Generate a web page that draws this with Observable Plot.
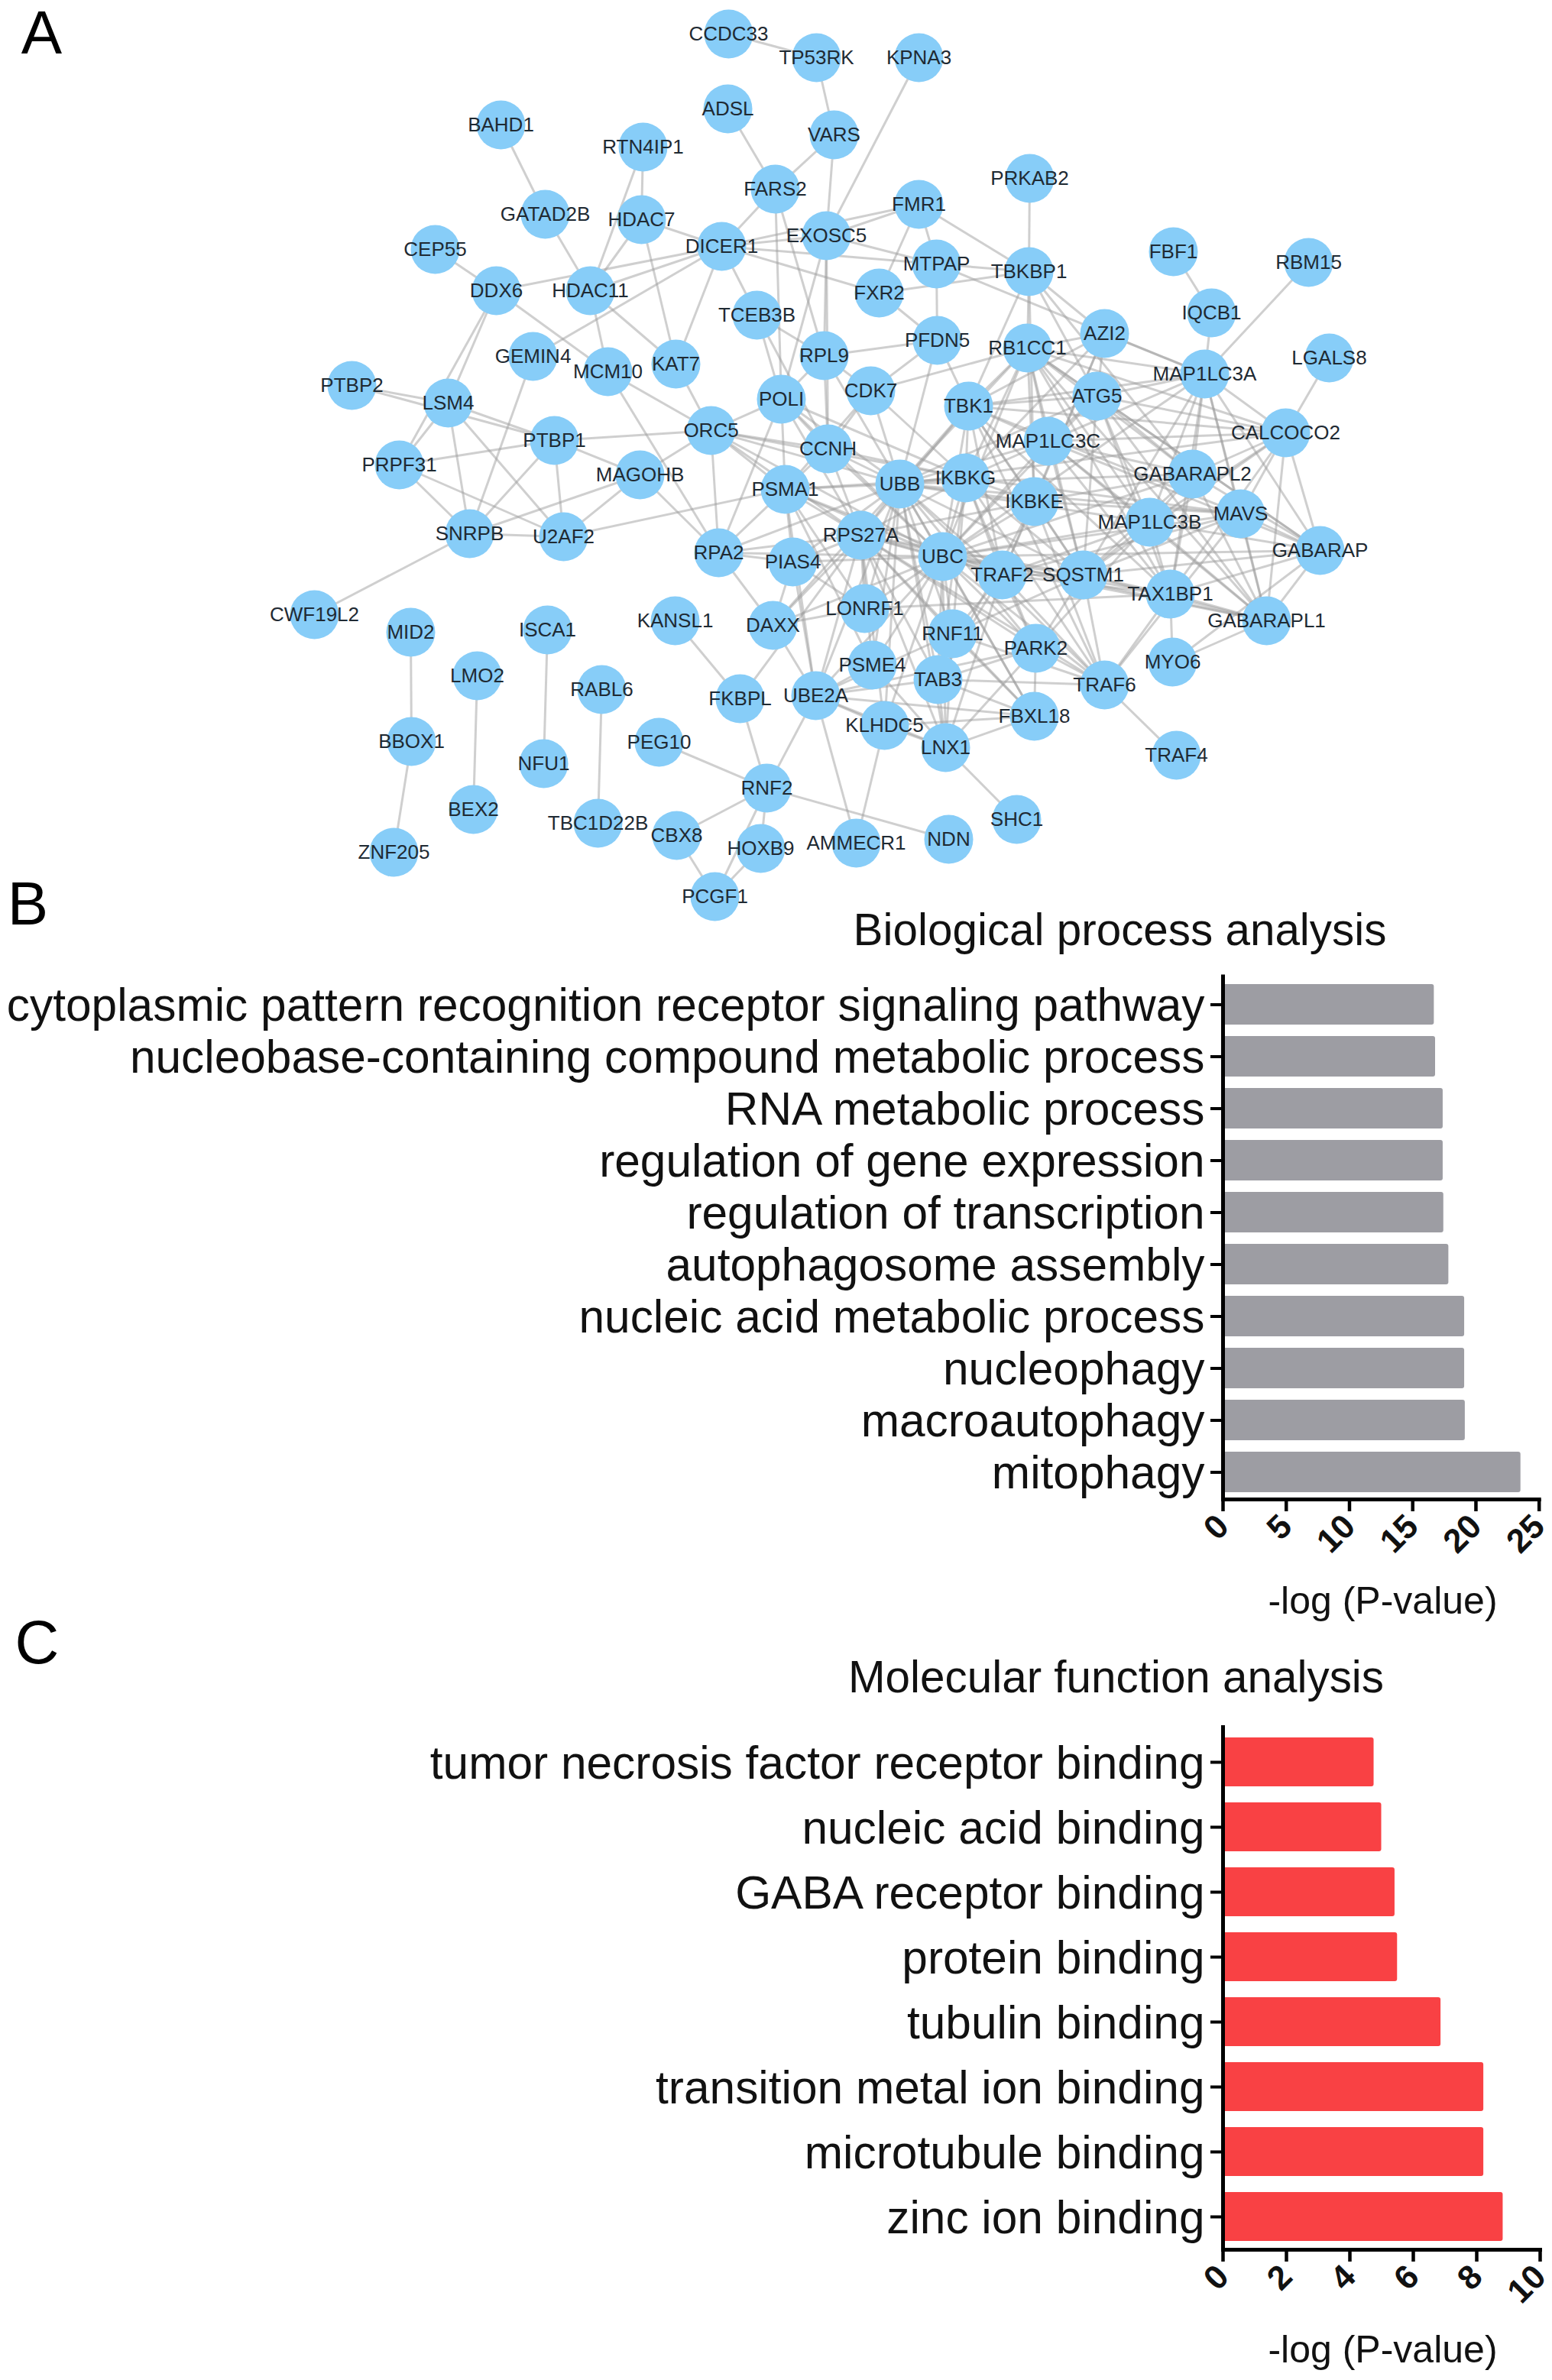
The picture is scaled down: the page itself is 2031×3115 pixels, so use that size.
<!DOCTYPE html>
<html>
<head>
<meta charset="utf-8">
<script src="https://cdn.jsdelivr.net/npm/d3@7"></script>
<script src="https://cdn.jsdelivr.net/npm/@observablehq/plot@0.6"></script>
<style>
html,body{margin:0;padding:0;background:#fff;width:2031px;height:3115px;overflow:hidden}
#a,#b,#c{position:absolute;left:0}
#a{top:0}#b{top:1150px}#c{top:2130px}
</style>
</head>
<body>
<div id="a"></div><div id="b"></div><div id="c"></div>
<script>
// ---- network nodes ----
const geneNames = ["CCDC33","TP53RK","KPNA3","ADSL","VARS","BAHD1","RTN4IP1","FARS2","FMR1","PRKAB2","GATAD2B","HDAC7","DICER1","EXOSC5","MTPAP","TBKBP1","FBF1","RBM15","CEP55","DDX6","HDAC11","FXR2","IQCB1","TCEB3B","AZI2","PFDN5","RB1CC1","GEMIN4","MCM10","KAT7","RPL9","MAP1LC3A","LGALS8","PTBP2","LSM4","POLI","CDK7","ATG5","TBK1","ORC5","PTBP1","CCNH","CALCOCO2","MAP1LC3C","PRPF31","MAGOHB","PSMA1","UBB","IKBKG","GABARAPL2","IKBKE","MAVS","MAP1LC3B","SNRPB","U2AF2","RPA2","PIAS4","RPS27A","UBC","TRAF2","SQSTM1","GABARAP","TAX1BP1","GABARAPL1","CWF19L2","MID2","ISCA1","KANSL1","DAXX","LONRF1","RNF11","PARK2","MYO6","PSME4","TAB3","TRAF6","LMO2","RABL6","FKBPL","UBE2A","KLHDC5","FBXL18","BBOX1","PEG10","LNX1","TRAF4","NFU1","RNF2","BEX2","TBC1D22B","CBX8","HOXB9","SHC1","NDN","AMMECR1","ZNF205","PCGF1"];
const geneX = [953,1068,1202,952,1091,655,841,1014,1202,1347,713,839,944,1081,1225,1346,1535,1712,569,649,772,1150,1585,990,1445,1226,1344,697,795,884,1078,1576,1739,460,586,1022,1139,1435,1267,930,725,1083,1682,1371,522,837,1027,1177,1263,1560,1353,1623,1504,614,737,940,1037,1126,1233,1311,1417,1727,1531,1657,411,537,716,883,1011,1131,1246,1355,1534,1141,1227,1445,624,787,968,1067,1157,1353,538,862,1237,1539,711,1003,619,782,885,995,1330,1241,1120,515,935];
const geneY = [44,75,75,142,176,163,192,247,267,233,280,287,322,308,345,355,329,343,326,380,380,383,409,412,436,445,455,466,486,476,465,489,468,504,527,522,511,518,531,563,576,587,566,577,608,621,640,633,625,620,656,672,683,698,702,723,735,700,728,752,752,720,777,812,804,827,824,812,818,796,829,848,866,870,889,896,884,902,914,910,949,937,970,971,978,988,999,1031,1059,1077,1093,1110,1072,1098,1103,1115,1173];

// ---- interactions: each gene followed by its partners ----
const interactionLists = [
"CCDC33 TP53RK","TP53RK VARS","KPNA3 EXOSC5","ADSL FARS2","VARS FARS2 EXOSC5","BAHD1 GATAD2B",
"RTN4IP1 HDAC7 HDAC11","FARS2 DICER1 RPL9 POLI","GATAD2B HDAC11","HDAC7 HDAC11 DICER1 KAT7",
"CEP55 DDX6","DDX6 DICER1 LSM4 PRPF31 MCM10","HDAC11 DICER1 KAT7 MCM10",
"DICER1 EXOSC5 FMR1 MTPAP FXR2 GEMIN4 KAT7 TCEB3B","GEMIN4 SNRPB","MCM10 ORC5 RPA2","KAT7 ORC5",
"PTBP2 PTBP1","LSM4 PTBP1 PRPF31 SNRPB U2AF2 PTBP2","PRPF31 PTBP1 SNRPB U2AF2",
"PTBP1 ORC5 MAGOHB SNRPB U2AF2","MAGOHB ORC5 SNRPB U2AF2 RPA2","U2AF2 PSMA1 SNRPB","SNRPB CWF19L2",
"TCEB3B POLI CCNH RPL9","RPL9 POLI EXOSC5 CCNH CDK7 PFDN5 UBB","EXOSC5 POLI CCNH MTPAP FMR1 RPL9",
"FMR1 TBKBP1 MTPAP FXR2","PRKAB2 TBKBP1","MTPAP PFDN5 TBKBP1 MAP1LC3A","FXR2 TBKBP1 PFDN5",
"FBF1 IQCB1","IQCB1 MAP1LC3A","RBM15 MAP1LC3A","LGALS8 CALCOCO2",
"TBKBP1 RB1CC1 AZI2 TBK1 ATG5 IKBKE GABARAPL2",
"PFDN5 TBK1 CDK7 UBB","CDK7 RB1CC1 UBB CCNH IKBKG PSMA1","POLI ORC5 PSMA1 UBB CCNH RPS27A UBC RPA2 IKBKG",
"ORC5 RPA2 CCNH PSMA1 UBB RPS27A UBC IKBKG","RPA2 PSMA1 DAXX RPS27A PIAS4 UBC UBB",
"CCNH UBB PSMA1 RPS27A UBC IKBKG","PSMA1 UBB RPS27A UBC PIAS4 IKBKG TRAF2 UBE2A LONRF1 PSME4",
"AZI2 RB1CC1 TBK1 MAP1LC3A ATG5 IKBKE TRAF2 IKBKG",
"RB1CC1 TBK1 MAP1LC3A ATG5 MAP1LC3C MAP1LC3B GABARAPL2 GABARAP GABARAPL1 IKBKE IKBKG UBC UBB SQSTM1 TAX1BP1 CALCOCO2",
"ATG5 MAP1LC3A MAP1LC3B MAP1LC3C GABARAP GABARAPL1 GABARAPL2 SQSTM1 TAX1BP1 CALCOCO2 TBK1 UBC UBB",
"MAP1LC3A CALCOCO2 GABARAPL2 GABARAP GABARAPL1 MAP1LC3B MAP1LC3C SQSTM1 TAX1BP1 MAVS TBK1 UBC",
"CALCOCO2 GABARAPL2 GABARAP GABARAPL1 MAP1LC3B MAP1LC3C SQSTM1 TAX1BP1 MAVS TBK1 UBB",
"MAP1LC3C GABARAPL2 GABARAP GABARAPL1 MAP1LC3B SQSTM1 TAX1BP1 UBC UBB TBK1 IKBKG",
"GABARAPL2 GABARAP GABARAPL1 MAP1LC3B SQSTM1 TAX1BP1 UBB IKBKE UBC",
"MAP1LC3B GABARAP GABARAPL1 SQSTM1 TAX1BP1 UBC UBB PARK2 TRAF2",
"GABARAP GABARAPL1 SQSTM1 TAX1BP1 MAVS UBC","GABARAPL1 SQSTM1 TAX1BP1 MYO6 MAVS UBC RPS27A",
"TAX1BP1 SQSTM1 MYO6 TRAF6 TBK1 UBC TRAF2 LONRF1","MYO6 GABARAP","MAVS TBK1 IKBKE IKBKG TRAF2 TRAF6 UBC SQSTM1 UBB",
"TBK1 IKBKG IKBKE TRAF2 TRAF6 SQSTM1 UBB UBC RPS27A",
"IKBKG UBB UBC RPS27A IKBKE TRAF2 TRAF6 SQSTM1 RNF11 TAB3 PARK2",
"IKBKE UBB UBC RPS27A TRAF2 TRAF6 SQSTM1 TAB3",
"UBB UBC RPS27A TRAF2 SQSTM1 RNF11 TAB3 LONRF1 PSME4 PIAS4 DAXX UBE2A KLHDC5 LNX1 PARK2 TRAF6 FBXL18",
"UBC RPS27A TRAF2 SQSTM1 RNF11 TAB3 LONRF1 PSME4 PIAS4 DAXX UBE2A KLHDC5 LNX1 PARK2 TRAF6 FBXL18",
"RPS27A TRAF2 SQSTM1 RNF11 TAB3 LONRF1 PSME4 PIAS4 DAXX UBE2A KLHDC5 LNX1 PARK2 TRAF6 FBXL18 FKBPL",
"TRAF2 SQSTM1 TRAF6 PARK2 TAB3 RNF11 LNX1","SQSTM1 TRAF6 PARK2 RNF11",
"PIAS4 UBE2A LONRF1 DAXX","DAXX UBE2A LONRF1","RNF11 UBE2A TRAF6 FBXL18 LNX1","PARK2 TRAF6 FBXL18 TAB3 UBE2A LNX1",
"PSME4 UBE2A LNX1","TAB3 TRAF6 LNX1 UBE2A FBXL18","KLHDC5 UBE2A LNX1 FBXL18 AMMECR1",
"FBXL18 LNX1 UBE2A","TRAF6 TRAF4","LNX1 SHC1 UBE2A",
"KANSL1 FKBPL","FKBPL RNF2","UBE2A RNF2 AMMECR1","PEG10 RNF2","RNF2 NDN CBX8 HOXB9 PCGF1","CBX8 PCGF1","HOXB9 PCGF1",
"MID2 BBOX1","BBOX1 ZNF205","LMO2 BEX2","ISCA1 NFU1","RABL6 TBC1D22B"
];

// ---- panel B ----
const bpTerms = ["cytoplasmic pattern recognition receptor signaling pathway","nucleobase-containing compound metabolic process","RNA metabolic process","regulation of gene expression","regulation of transcription","autophagosome assembly","nucleic acid metabolic process","nucleophagy","macroautophagy","mitophagy"];
const bpValues = [16.7,16.8,17.4,17.4,17.45,17.85,19.1,19.1,19.15,23.55];
const bpTicks = [0,5,10,15,20,25];
// ---- panel C ----
const mfTerms = ["tumor necrosis factor receptor binding","nucleic acid binding","GABA receptor binding","protein binding","tubulin binding","transition metal ion binding","microtubule binding","zinc ion binding"];
const mfValues = [4.76,5.0,5.42,5.5,6.87,8.22,8.22,8.83];
const mfTicks = [0,2,4,6,8,10];

const FONT = "'Liberation Sans', Arial, sans-serif";
const baseStyle = {fontFamily: FONT, background: "transparent", overflow: "visible"};

// network
const nodes = geneNames.map((name, i) => ({name, x: geneX[i], y: geneY[i]}));
const byName = new Map(nodes.map(n => [n.name, n]));
const seen = new Set();
const links = [];
for (const line of interactionLists) {
  const [head, ...rest] = line.split(" ");
  for (const other of rest) {
    const key = [head, other].sort().join("|");
    if (seen.has(key)) continue;
    seen.add(key);
    links.push({a: byName.get(head), b: byName.get(other)});
  }
}
document.getElementById("a").append(Plot.plot({
  width: 2031, height: 1210,
  margin: 0,
  style: baseStyle,
  x: {domain: [0, 2031], range: [0, 2031], axis: null},
  y: {domain: [0, 1210], range: [0, 1210], axis: null},
  marks: [
    Plot.link(links, {x1: d => d.a.x, y1: d => d.a.y, x2: d => d.b.x, y2: d => d.b.y, stroke: "#9a9a9a", strokeOpacity: 0.48, strokeWidth: 3}),
    Plot.dot(nodes, {x: "x", y: "y", r: 32, fill: "#87CDF8", stroke: "none"}),
    Plot.text(nodes, {x: "x", y: "y", text: "name", fontSize: 26, fill: "#1f2a33"}),
    Plot.text(["A"], {frameAnchor: "top-left", dx: 54, dy: 44, textAnchor: "middle", lineAnchor: "middle", fontSize: 80, fill: "#000"})
  ]
}));

function barPanel(host, o) {
  const P = Plot.plot({
    width: 2031, height: o.height,
    marginLeft: 1600, marginRight: 2031 - o.xEnd, marginTop: o.frameTop, marginBottom: o.height - o.frameBottom,
    style: baseStyle,
    x: {domain: o.xDomain, axis: null},
    y: {domain: o.terms, range: o.yRange, padding: o.padding, axis: null},
    marks: [
      Plot.barX(o.terms.map((t, i) => ({t, v: o.values[i]})), {x: "v", y: "t", fill: o.color, rx: 3}),
      Plot.axisY({domain: o.terms, tickSize: 16, text: null, label: null, strokeWidth: 4, stroke: "#000"}),
      Plot.axisY({domain: o.terms, tickSize: 0, tickPadding: 24, dy: 2, fontSize: o.fontSize, label: null, fill: "#111"}),
      Plot.axisX({ticks: o.ticks, tickSize: 16, tickRotate: -45, fontSize: 44, fontWeight: 600, label: null, strokeWidth: 4.5, fill: "#111", stroke: "#000", tickPadding: 12}),
      Plot.frame({anchor: "left", stroke: "#000", strokeWidth: 5}),
      Plot.frame({anchor: "bottom", stroke: "#000", strokeWidth: 5}),
      Plot.text([o.title], {frameAnchor: "top-left", dx: o.titleX - 1600, dy: o.titleDy, textAnchor: "middle", lineAnchor: "middle", fontSize: 58.4, fill: "#111"}),
      Plot.text(["-log (P-value)"], {frameAnchor: "bottom-left", dx: 209, dy: o.xLabelDy, textAnchor: "middle", lineAnchor: "middle", fontSize: 50, fill: "#111"}),
      Plot.text([o.letter], {frameAnchor: "top-left", dx: o.letterX - 1600, dy: o.letterDy, textAnchor: "middle", lineAnchor: "middle", fontSize: 80, fill: "#000"})
    ]
  });
  document.getElementById(host).append(P);
}

barPanel("b", {
  height: 980, xEnd: 2013.7, xDomain: [0, 25], ticks: bpTicks,
  terms: bpTerms, values: bpValues, color: "#9D9DA3", fontSize: 60.4,
  frameTop: 127.6, frameBottom: 812, yRange: [122, 819], padding: 0.216,
  title: "Biological process analysis", titleX: 1465, titleDy: 68 - 127.6,
  xLabelDy: 2095 - 1962, letter: "B", letterX: 36, letterDy: 1184 - 1277.6
});
barPanel("c", {
  height: 985, xEnd: 2015, xDomain: [0, 10], ticks: mfTicks,
  terms: mfTerms, values: mfValues, color: "#F94144", fontSize: 60.4,
  frameTop: 130, frameBottom: 814, yRange: [121.7, 825.4], padding: 0.25,
  title: "Molecular function analysis", titleX: 1460, titleDy: 2196 - 2260,
  xLabelDy: 3075 - 2944, letter: "C", letterX: 48, letterDy: 2151 - 2260
});
</script>
</body>
</html>
